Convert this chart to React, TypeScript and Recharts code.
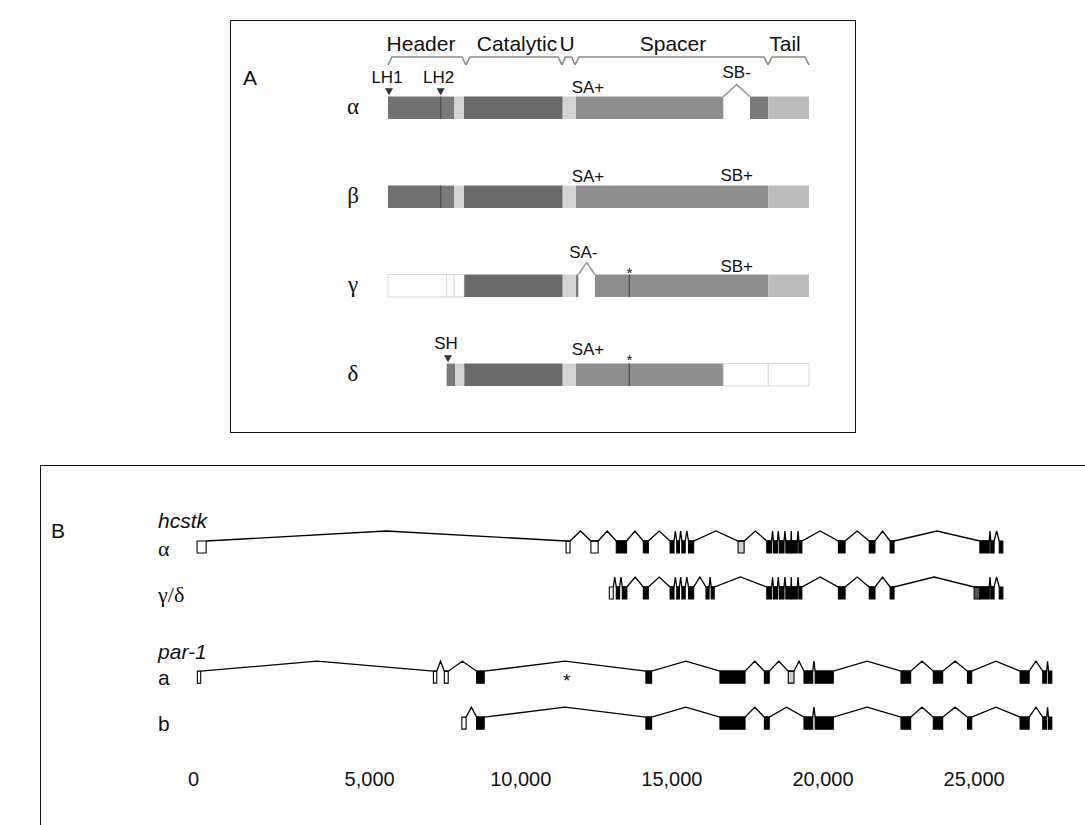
import React from 'react';
import { ComposedChart, XAxis, YAxis, Line, Scatter, ReferenceArea } from 'recharts';

const SANS = '"Liberation Sans", Arial, Helvetica, sans-serif';
const SERIF = '"Liberation Serif", "DejaVu Serif", "Times New Roman", serif';

// ================= Panel A : protein isoforms =================
// x in residue-like units along the protein, y = isoform row
const domainNames = ['Header', 'Catalytic', 'U', 'Spacer', 'Tail'];
const domainStart = [0, 78, 174, 187, 380];
const domainEnd = [78, 174, 187, 380, 421];
const domainLabelX = [33, 129, 179, 285, 397];

const isoformNames = ['α', 'β', 'γ', 'δ'];
const isoformRow = [0, 1, 2, 3];

type Seg = [number, number, string];
const alphaSegments: Seg[] = [
  [0, 52.7, 'hdr'], [52.7, 66, 'hdr2'], [66, 76, 'u'], [76, 174.7, 'cat'],
  [174.7, 188, 'u'], [188, 335.3, 'sp'], [362, 380.3, 'sp2'], [380.3, 421, 'tail'],
];
const betaSegments: Seg[] = [
  [0, 52.7, 'hdr'], [52.7, 66, 'hdr2'], [66, 76, 'u'], [76, 174.7, 'cat'],
  [174.7, 188, 'u'], [188, 380.3, 'sp'], [380.3, 421, 'tail'],
];
const gammaSegments: Seg[] = [
  [0, 58.7, 'blank'], [58.7, 66, 'blank'], [66, 76.3, 'blank'], [76.3, 174.7, 'cat'],
  [174.7, 188, 'u'], [188, 190.3, 'sp2'], [207, 380.3, 'sp'], [380.3, 421, 'tail'],
];
const deltaSegments: Seg[] = [
  [58.7, 67, 'hdr2'], [67, 76.3, 'u'], [76.3, 174.7, 'cat'], [174.7, 188, 'u'],
  [188, 335.3, 'sp'], [335.3, 380.3, 'blank'], [380.3, 421, 'blank'],
];
const isoformSegments = [alphaSegments, betaSegments, gammaSegments, deltaSegments];

// thin darker division lines inside the bars
const divisionRow = [0, 1, 2, 3];
const divisionX = [52.7, 52.7, 241.3, 241.3];

// skipped (spliced-out) pieces drawn as a small chevron
const skipRow = [0, 2];
const skipFrom = [335.3, 190.3];
const skipTo = [362, 207];

// start-site markers
const markerNames = ['LH1', 'LH2', 'SH'];
const markerRow = [0, 0, 3];
const markerX = [1, 52.7, 60];

// splice / site annotations
const siteText = ['SA+', 'SB-', 'SA+', 'SB+', 'SA-', '*', 'SB+', 'SA+', '*'];
const siteRow = [0, 0, 1, 1, 2, 2, 2, 3, 3];
const siteX = [200, 348.7, 200, 348.7, 195.3, 241.3, 348.7, 200, 241.3];
const siteOffset = [-0.237, -0.406, -0.228, -0.247, -0.378, -0.191, -0.217, -0.294, -0.219];

// ================= Panel B : gene structures (bp) =================
const axisTickValues = [0, 5000, 10000, 15000, 20000, 25000];
const axisTickLabels = ['0', '5,000', '10,000', '15,000', '20,000', '25,000'];

const geneNames = ['hcstk', 'par-1'];
const trackNames = ['α', 'γ/δ', 'a', 'b'];
const trackY = [0, 1, 2.83, 3.83];
const trackGene = [0, 0, 1, 1];

type Exon = [number, number, string]; // start, end, kind (w white, b black, g light, d dark)
const hcstkAlpha: Exon[] = [
  [-710, -410, 'w'], [11500, 11630, 'w'], [12320, 12560, 'w'], [13160, 13500, 'b'],
  [14055, 14220, 'b'], [14940, 15070, 'b'], [15160, 15250, 'b'], [15330, 15440, 'b'],
  [15550, 15720, 'b'], [17190, 17390, 'g'], [18140, 18300, 'b'], [18360, 18490, 'b'],
  [18550, 18710, 'b'], [18770, 18940, 'b'], [18960, 19150, 'b'], [19200, 19300, 'b'],
  [20510, 20730, 'b'], [21530, 21720, 'b'], [22220, 22350, 'b'], [25190, 25500, 'b'],
  [25550, 25660, 'b'], [25830, 25950, 'b'],
];
const hcstkGammaDelta: Exon[] = [
  [12930, 13060, 'w'], [13160, 13270, 'b'], [13360, 13510, 'b'], [14055, 14220, 'b'],
  [14940, 15070, 'b'], [15160, 15250, 'b'], [15330, 15440, 'b'], [15550, 15720, 'b'],
  [16130, 16230, 'b'], [16300, 16400, 'b'], [18140, 18300, 'b'], [18360, 18490, 'b'],
  [18550, 18710, 'b'], [18770, 18940, 'b'], [18960, 19150, 'b'], [19200, 19300, 'b'],
  [20510, 20730, 'b'], [21530, 21720, 'b'], [22220, 22350, 'b'], [25000, 25190, 'd'],
  [25190, 25500, 'b'], [25550, 25660, 'b'], [25830, 25950, 'b'],
];
const par1a: Exon[] = [
  [-700, -590, 'w'], [7110, 7220, 'w'], [7470, 7600, 'w'], [8540, 8790, 'b'],
  [14140, 14330, 'b'], [16590, 17420, 'b'], [18060, 18220, 'b'], [18850, 19040, 'g'],
  [19370, 19660, 'b'], [19740, 20340, 'b'], [22580, 22900, 'b'], [23650, 23960, 'b'],
  [24780, 24920, 'b'], [26520, 26820, 'b'], [27270, 27400, 'b'], [27460, 27570, 'b'],
];
const par1b: Exon[] = [
  [8050, 8190, 'w'], [8540, 8790, 'b'], [14140, 14330, 'b'], [16590, 17420, 'b'],
  [18060, 18220, 'b'], [19370, 19660, 'b'], [19740, 20340, 'b'], [22580, 22900, 'b'],
  [23650, 23960, 'b'], [24780, 24920, 'b'], [26520, 26820, 'b'], [27270, 27400, 'b'],
  [27460, 27570, 'b'],
];
const trackExons = [hcstkAlpha, hcstkGammaDelta, par1a, par1b];

// asterisk in par-1 a intron
const starTrack = [2];
const starX = [11520];

// ---------------- geometry constants (styling, not data) ----------------
const A_BOX_TOP = 20;
const BAR_HALF = 0.126;
const CHEVRON_A = -0.26;
const BRACE_TOP = -0.571;
const BRACE_LOW = -0.481;
const DOMAIN_LABEL_Y = -0.717;
const MARKER_DY = -0.181;
const MARKER_LABEL_DY = -0.343;

const EXON_H = 0.26;
const INTRON_PEAK = -0.217;
const LABEL_X_B = -2000;

const segFill: Record<string, string> = {
  hdr: '#717171', hdr2: '#7a7a7a', u: '#d4d4d4', cat: '#6a6a6a', sp: '#8e8e8e',
  sp2: '#7a7a7a', tail: '#bcbcbc', blank: '#ffffff',
};
const exonFill: Record<string, string> = { w: '#ffffff', b: '#000000', g: '#cfcfcf', d: '#555555' };

function intronPoints(exons: Exon[], base: number, peak: number) {
  const pts: { x: number; y: number }[] = [];
  for (let i = 0; i < exons.length - 1; i++) {
    const a = exons[i][1];
    const b = exons[i + 1][0];
    if (b - a <= 0) continue;
    pts.push({ x: a, y: base }, { x: (a + b) / 2, y: peak }, { x: b, y: base });
  }
  return pts;
}

const TextShape = (props: any) => {
  const { cx, cy, payload } = props;
  if (cx == null || cy == null) return null;
  const k = payload.kind;
  let size = 18;
  let family = SANS;
  let style = 'normal';
  let anchor: any = 'middle';
  let dy = '0.35em';
  if (k === 'domain') size = 21;
  if (k === 'iso') { size = 23; family = SERIF; }
  if (k === 'marker') size = 17;
  if (k === 'star') { size = 15; dy = '0.62em'; }
  if (k === 'track') { size = 21; anchor = 'start'; }
  if (k === 'trackGreek') { size = 22; anchor = 'start'; family = SERIF; }
  if (k === 'gene') { size = 21; anchor = 'start'; style = 'italic'; }
  if (k === 'starB') { size = 19; dy = '0.6em'; }
  return (
    <text x={cx} y={cy} dy={dy} textAnchor={anchor} fontFamily={family} fontStyle={style}
      fontSize={size} fill="#111">{payload.t}</text>
  );
};

const TriangleShape = (props: any) => {
  const { cx, cy } = props;
  if (cx == null || cy == null) return null;
  return <path d={`M${cx - 4},${cy - 3.5} L${cx + 4},${cy - 3.5} L${cx},${cy + 3.5} Z`} fill="#333" />;
};

const AxisTick = (props: any) => {
  const { x, y, payload } = props;
  const i = axisTickValues.indexOf(payload.value);
  const shift = payload.value === 0 ? -25 : 0;
  return (
    <text x={x + shift} y={y} dy="0.35em" textAnchor="middle" fontFamily={SANS} fontSize={20} fill="#111">
      {axisTickLabels[i]}
    </text>
  );
};

function PanelA() {
  const areas: React.ReactNode[] = [];
  isoformSegments.forEach((segs, r) => {
    const row = isoformRow[r];
    segs.forEach((s, j) => {
      const blank = s[2] === 'blank';
      areas.push(
        <ReferenceArea key={`a${r}-${j}`} x1={s[0]} x2={s[1]} y1={row - BAR_HALF} y2={row + BAR_HALF}
          fill={segFill[s[2]]} fillOpacity={1} stroke={blank ? '#d6d6d6' : 'none'} strokeWidth={1}
          ifOverflow="visible" />
      );
    });
  });
  divisionX.forEach((x, i) => {
    areas.push(
      <ReferenceArea key={`div${i}`} x1={x - 0.6} x2={x + 0.6} y1={divisionRow[i] - BAR_HALF}
        y2={divisionRow[i] + BAR_HALF} fill="#4a4a4a" fillOpacity={1} stroke="none" ifOverflow="visible" />
    );
  });
  const braces = domainStart.map((s, i) => {
    const e = domainEnd[i];
    const inset = Math.min(4, (e - s) / 4);
    return [
      { x: s, y: BRACE_LOW }, { x: s + inset, y: BRACE_TOP },
      { x: e - inset, y: BRACE_TOP }, { x: e, y: BRACE_LOW },
    ];
  });
  const skips = skipRow.map((r, i) => [
    { x: skipFrom[i], y: r - BAR_HALF }, { x: (skipFrom[i] + skipTo[i]) / 2, y: r + CHEVRON_A },
    { x: skipTo[i], y: r - BAR_HALF },
  ]);
  const texts = [
    ...domainNames.map((t, i) => ({ x: domainLabelX[i], y: DOMAIN_LABEL_Y, t, kind: 'domain' })),
    ...isoformNames.map((t, i) => ({ x: -35, y: isoformRow[i] - 0.02, t, kind: 'iso' })),
    ...markerNames.map((t, i) => ({ x: markerX[i] - 2, y: markerRow[i] + MARKER_LABEL_DY - (i === 2 ? 0.008 : 0), t, kind: 'marker' })),
    ...siteText.map((t, i) => ({ x: siteX[i], y: siteRow[i] + siteOffset[i], t, kind: t === '*' ? 'star' : 'marker' })),
  ];
  const markers = markerX.map((x, i) => ({ x, y: markerRow[i] + MARKER_DY }));
  return (
    <ComposedChart width={625} height={432} margin={{ top: 0, right: 0, bottom: 0, left: 0 }}>
      <XAxis type="number" dataKey="x" domain={[-158, 467]} hide allowDataOverflow />
      <YAxis type="number" dataKey="y" domain={[-1.211, 3.643]} reversed hide allowDataOverflow />
      {areas}
      {braces.map((pts, i) => (
        <Line key={`br${i}`} data={pts} dataKey="y" type="linear" stroke="#8a8a8a" strokeWidth={1.6}
          dot={false} activeDot={false} isAnimationActive={false} />
      ))}
      {skips.map((pts, i) => (
        <Line key={`sk${i}`} data={pts} dataKey="y" type="linear" stroke="#9a9a9a" strokeWidth={1.6}
          dot={false} activeDot={false} isAnimationActive={false} />
      ))}
      <Scatter data={markers} dataKey="y" shape={<TriangleShape />} isAnimationActive={false} />
      <Scatter data={texts} dataKey="y" shape={<TextShape />} isAnimationActive={false} />
    </ComposedChart>
  );
}

function PanelB() {
  const areas: React.ReactNode[] = [];
  trackExons.forEach((exons, t) => {
    const base = trackY[t];
    exons.forEach((e, j) => {
      areas.push(
        <ReferenceArea key={`e${t}-${j}`} x1={e[0]} x2={e[1]} y1={base} y2={base + EXON_H}
          fill={exonFill[e[2]]} fillOpacity={1} stroke="#000" strokeWidth={1.1} ifOverflow="visible" />
      );
    });
  });
  const texts = [
    ...geneNames.map((t, g) => {
      const first = trackGene.indexOf(g);
      return { x: LABEL_X_B, y: trackY[first] - 0.435, t, kind: 'gene' };
    }),
    ...trackNames.map((t, i) => ({
      x: LABEL_X_B, y: trackY[i] + 0.15, t, kind: /[a-z]/.test(t) ? 'track' : 'trackGreek',
    })),
    ...starTrack.map((tr, i) => ({ x: starX[i], y: trackY[tr] + 0.087, t: '*', kind: 'starB' })),
  ];
  return (
    <ComposedChart width={1100} height={360} margin={{ top: 0, right: 8, bottom: 0, left: 146 }}>
      <XAxis type="number" dataKey="x" domain={[-2400, 28900]} ticks={axisTickValues} interval={0}
        tick={<AxisTick />} axisLine={false} tickLine={false} tickSize={0} tickMargin={19} height={65}
        allowDataOverflow />
      <YAxis type="number" dataKey="y" domain={[-1.652, 4.761]} reversed hide allowDataOverflow />
      {trackExons.map((exons, t) => (
        <Line key={`in${t}`} data={intronPoints(exons, trackY[t], trackY[t] + INTRON_PEAK)} dataKey="y"
          type="linear" stroke="#000" strokeWidth={1.3} dot={false} activeDot={false}
          isAnimationActive={false} />
      ))}
      {areas}
      <Scatter data={texts} dataKey="y" shape={<TextShape />} isAnimationActive={false} />
    </ComposedChart>
  );
}

const PanelLetter = ({ x, y, text }: { x: number; y: number; text: string }) => (
  <div style={{ position: 'absolute', left: x, top: y, transform: 'translate(-50%, -50%)',
    fontFamily: SANS, fontSize: 21, lineHeight: 1, color: '#111' }}>{text}</div>
);

export default function App() {
  return (
    <div style={{ position: 'absolute', left: 0, top: 0, width: 1085, height: 825, overflow: 'hidden',
      background: '#fff' }}>
      <div style={{ position: 'absolute', left: 230, top: A_BOX_TOP, width: 626, height: 433 - A_BOX_TOP,
        border: '1px solid #111', boxSizing: 'border-box' }} />
      <div style={{ position: 'absolute', left: 40, top: 465, width: 1200, height: 600,
        border: '1px solid #111', boxSizing: 'border-box' }} />
      <PanelLetter x={250} y={77} text="A" />
      <PanelLetter x={58} y={530} text="B" />
      <div style={{ position: 'absolute', left: 230, top: 0 }}><PanelA /></div>
      <div style={{ position: 'absolute', left: 0, top: 465 }}><PanelB /></div>
    </div>
  );
}
